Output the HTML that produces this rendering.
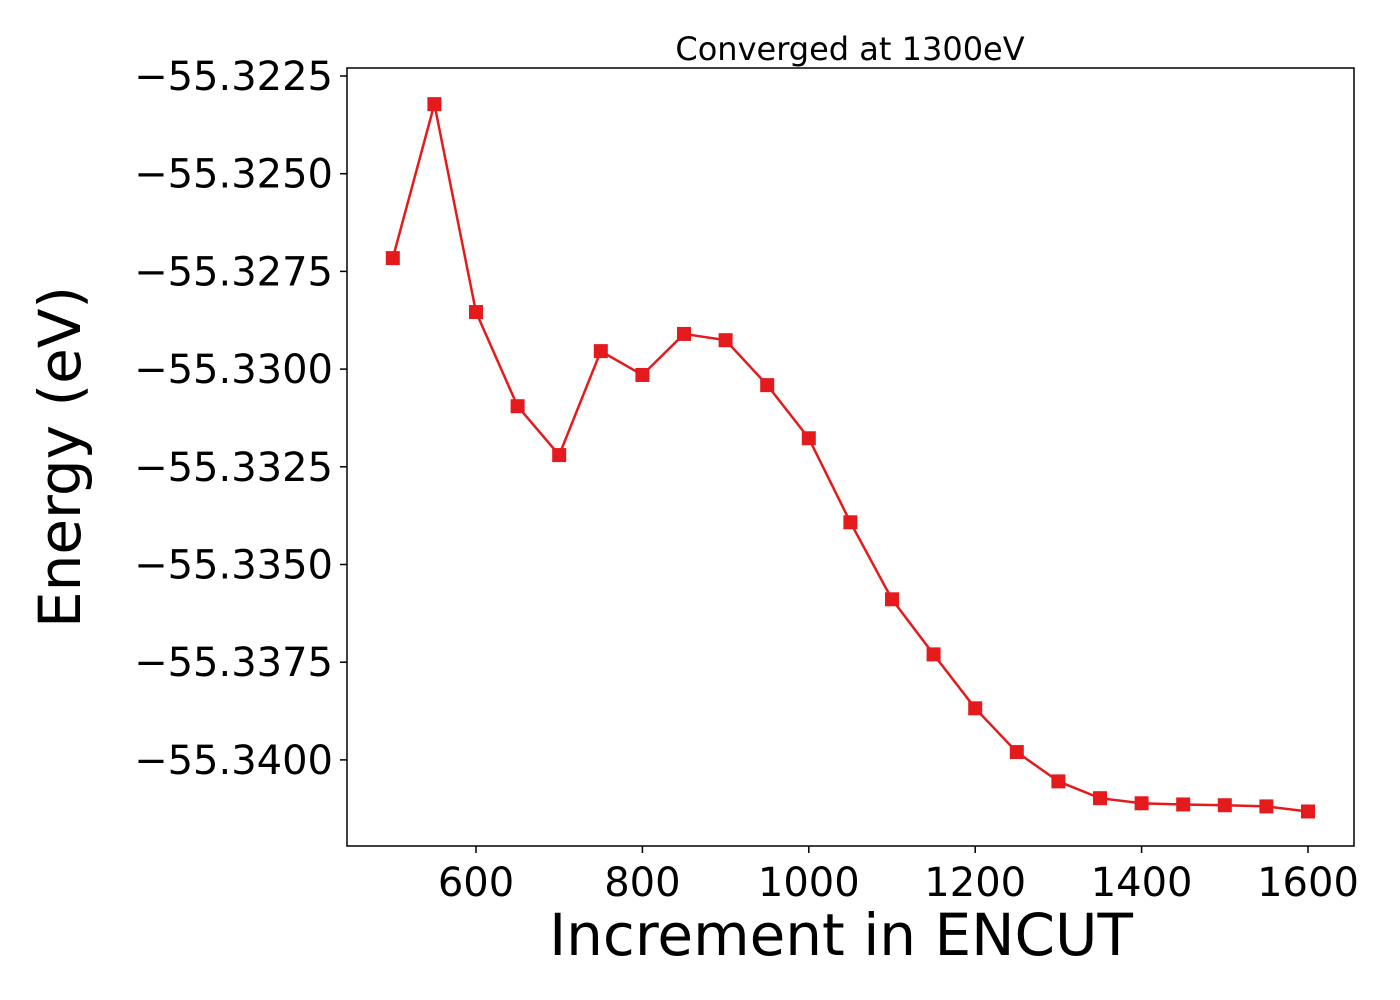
<!DOCTYPE html>
<html><head><meta charset="utf-8"><style>body{margin:0;background:#fff}svg{display:block}text{font-family:"DejaVu Sans","Liberation Sans",sans-serif}</style></head>
<body>
<svg id="chart" width="1400" height="1000"></svg>
<script>
const encut = [500,550,600,650,700,750,800,850,900,950,1000,1050,1100,1150,1200,1250,1300,1350,1400,1450,1500,1550,1600];
const energy = [-55.32716,-55.32322,-55.32854,-55.33095,-55.33220,-55.32954,-55.33015,-55.32910,-55.32926,-55.33041,-55.33177,-55.33392,-55.33589,-55.33730,-55.33868,-55.33980,-55.34055,-55.34098,-55.34111,-55.34114,-55.34116,-55.34119,-55.34132];
const xTicks = [600,800,1000,1200,1400,1600];
const yTicks = [-55.3225,-55.3250,-55.3275,-55.3300,-55.3325,-55.3350,-55.3375,-55.3400];
const yTickLabels = ["−55.3225","−55.3250","−55.3275","−55.3300","−55.3325","−55.3350","−55.3375","−55.3400"];
const NS="http://www.w3.org/2000/svg", svg=document.getElementById('chart');
const L=347,R=1354,T=68,B=846;
function xs(v){return 476+(v-600)*0.832;}
function ys(v){return 76+(-55.3225-v)*39080;}
function mk(tag,attrs,parent){const e=document.createElementNS(NS,tag);for(const k in attrs)e.setAttribute(k,attrs[k]);(parent||svg).appendChild(e);return e;}
const frame=mk('rect',{x:L,y:T,width:R-L,height:B-T,fill:'none',stroke:'#000','stroke-width':1.5});


xTicks.forEach(v=>{
  const t=mk('line',{x1:xs(v),x2:xs(v),y1:B,y2:B+7,stroke:'#000','stroke-width':1.5});
  
  
  const l=mk('text',{x:xs(v),y:B+50,'font-size':40,'text-anchor':'middle'});l.textContent=v;
  
  
});
yTicks.forEach((v,i)=>{
  const t=mk('line',{x1:L-7,x2:L,y1:ys(v),y2:ys(v),stroke:'#000','stroke-width':1.5});
  
  
  const l=mk('text',{x:L-14,y:ys(v)+14,'font-size':40,'text-anchor':'end'});l.textContent=yTickLabels[i];
  
  
});
const line=mk('polyline',{points:encut.map((v,i)=>xs(v)+','+ys(energy[i])).join(' '),fill:'none',stroke:'#e41a1c','stroke-width':2.5});


encut.forEach((v,i)=>{
  const m=mk('rect',{x:xs(v)-7,y:ys(energy[i])-7,width:14,height:14,fill:'#e41a1c'});
  
  
});
const title=mk('text',{x:850,y:60,'font-size':32,'text-anchor':'middle'});title.textContent='Converged at 1300eV';


const xl=mk('text',{x:841,y:955,'font-size':58,'text-anchor':'middle'});xl.textContent='Increment in ENCUT';


const yl=mk('text',{x:0,y:0,'font-size':58,'text-anchor':'middle',transform:'translate(80,457) rotate(-90)'});yl.textContent='Energy (eV)';


</script>
</body></html>
